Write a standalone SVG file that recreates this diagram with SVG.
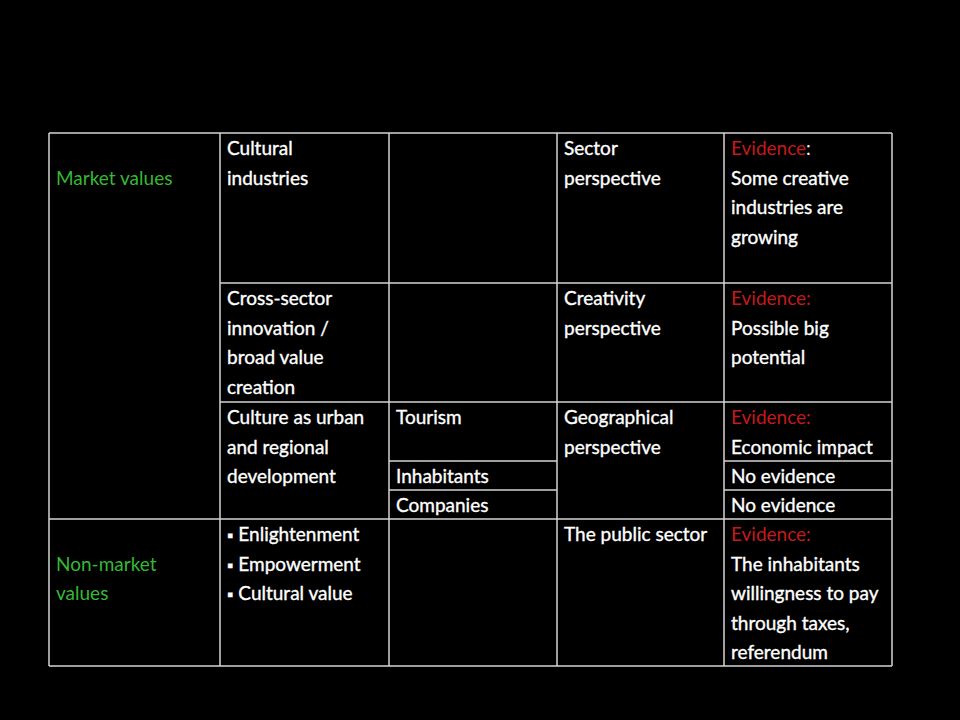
<svg xmlns="http://www.w3.org/2000/svg" width="960" height="720" viewBox="0 0 960 720">
<style>
text{font-family:Lato,"Open Sans","Liberation Sans",sans-serif;font-size:19px;fill:#ffffff}
.w{stroke:#ffffff;stroke-width:0.35}
.g{fill:#36b836}
.r{fill:#c41a1a}
.b{font-size:16px}
.grid line{stroke:#d4d4d4;stroke-width:1.5}
</style>
<rect x="0" y="0" width="960" height="720" fill="#000"/>
<g id="grid" class="grid">
<line x1="49" y1="133" x2="892" y2="133"/>
<line x1="220" y1="283" x2="892" y2="283"/>
<line x1="220" y1="402" x2="892" y2="402"/>
<line x1="389" y1="461" x2="557" y2="461"/>
<line x1="724" y1="461" x2="892" y2="461"/>
<line x1="389" y1="490" x2="557" y2="490"/>
<line x1="724" y1="490" x2="892" y2="490"/>
<line x1="49" y1="519" x2="892" y2="519"/>
<line x1="49" y1="666" x2="892" y2="666"/>
<line x1="49" y1="133" x2="49" y2="666"/>
<line x1="220" y1="133" x2="220" y2="666"/>
<line x1="389" y1="133" x2="389" y2="666"/>
<line x1="557" y1="133" x2="557" y2="666"/>
<line x1="724" y1="133" x2="724" y2="666"/>
<line x1="892" y1="133" x2="892" y2="666"/>
</g>
<g id="market-values"><text class="g" x="56" y="184.5">Market values</text></g>
<g id="cultural-industries" class="w"><text x="227" y="155">Cultural</text><text x="227" y="184.5">industries</text></g>
<g id="sector-perspective" class="w"><text x="564" y="155">Sector</text><text x="564" y="184.5">perspective</text></g>
<g id="evidence-1"><text x="731" y="155"><tspan class="r">Evidence</tspan>:</text><text class="w" x="731" y="184.5">Some creative</text><text class="w" x="731" y="214">industries are</text><text class="w" x="731" y="243.5">growing</text></g>
<g id="cross-sector" class="w"><text x="227" y="305">Cross-sector</text><text x="227" y="334.5">innovation /</text><text x="227" y="364">broad value</text><text x="227" y="393.5">creation</text></g>
<g id="creativity-perspective" class="w"><text x="564" y="305">Creativity</text><text x="564" y="334.5">perspective</text></g>
<g id="evidence-2"><text class="r" x="731" y="305">Evidence:</text><text class="w" x="731" y="334.5">Possible big</text><text class="w" x="731" y="364">potential</text></g>
<g id="culture-urban" class="w"><text x="227" y="424">Culture as urban</text><text x="227" y="453.5">and regional</text><text x="227" y="483">development</text></g>
<g id="tourism" class="w"><text x="396" y="424">Tourism</text></g>
<g id="inhabitants" class="w"><text x="396" y="483">Inhabitants</text></g>
<g id="companies" class="w"><text x="396" y="512">Companies</text></g>
<g id="geographical-perspective" class="w"><text x="564" y="424">Geographical</text><text x="564" y="453.5">perspective</text></g>
<g id="evidence-3"><text class="r" x="731" y="424">Evidence:</text><text class="w" x="731" y="453.5">Economic impact</text></g>
<g id="no-evidence-1" class="w"><text x="731" y="483">No evidence</text></g>
<g id="no-evidence-2" class="w"><text x="731" y="512">No evidence</text></g>
<g id="non-market-values"><text class="g" x="56" y="570.5">Non-market</text><text class="g" x="56" y="600">values</text></g>
<g id="values-list" class="w"><text x="227" y="541"><tspan class="b">▪</tspan> Enlightenment</text><text x="227" y="570.5"><tspan class="b">▪</tspan> Empowerment</text><text x="227" y="600"><tspan class="b">▪</tspan> Cultural value</text></g>
<g id="public-sector" class="w"><text x="564" y="541">The public sector</text></g>
<g id="evidence-4"><text class="r" x="731" y="541">Evidence:</text><text class="w" x="731" y="570.5">The inhabitants</text><text class="w" x="731" y="600">willingness to pay</text><text class="w" x="731" y="629.5">through taxes,</text><text class="w" x="731" y="659">referendum</text></g>
<g id="connectors"></g>
</svg>
